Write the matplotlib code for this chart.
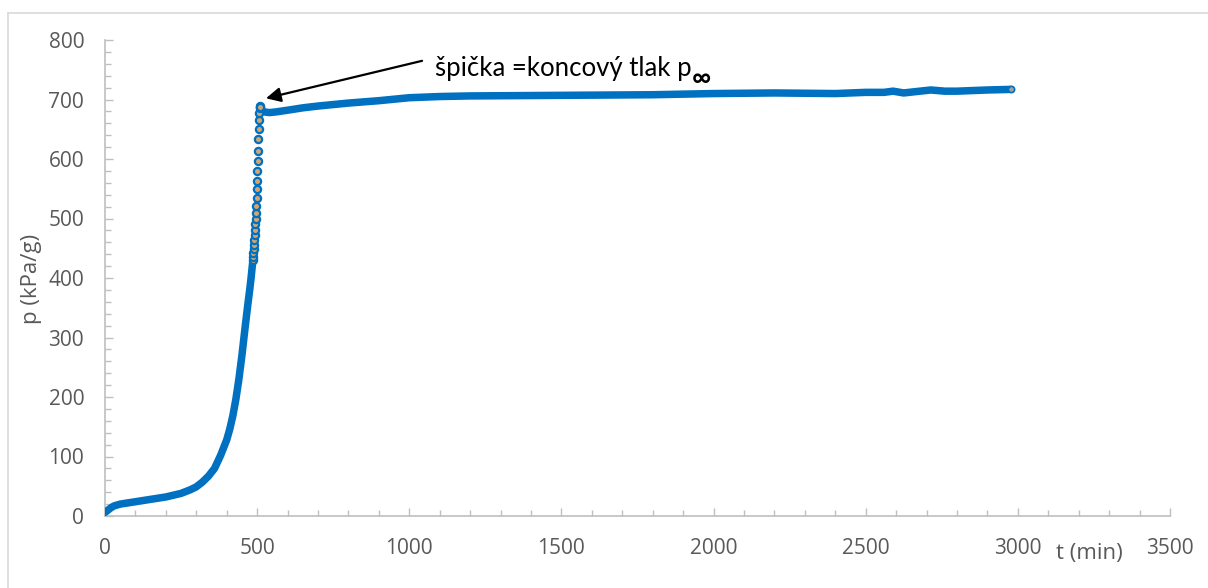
import matplotlib
matplotlib.use("Agg")
import matplotlib.pyplot as plt
from matplotlib.lines import Line2D

# ---- data ----
t_min = [0, 10, 20, 30, 50, 75, 100, 150, 200, 250, 280, 300, 320, 340, 360, 380,
         400, 410, 420, 430, 440, 450, 460, 470, 472, 474, 476, 478, 480, 482, 484,
         486, 487, 488, 489, 490, 491, 492, 493, 494, 495, 496, 497, 498, 499, 500,
         501, 502, 503, 504, 505, 506, 507, 508, 509, 510, 512, 516, 525, 540, 560,
         600, 650, 700, 800, 900, 1000, 1100, 1200, 1500, 1800, 2000, 2200, 2400,
         2500, 2560, 2590, 2625, 2660, 2714, 2760, 2800, 2850, 2900, 2977]
p_kpa = [6, 10, 14, 17, 20, 22, 24, 28, 32, 38, 44, 49, 57, 67, 80, 102,
         128, 146, 168, 196, 230, 270, 315, 358, 366, 374, 382, 391, 400, 410, 420,
         430, 436, 442, 449, 456, 464, 472, 481, 490, 500, 510, 521, 535, 549, 563,
         580, 597, 614, 634, 650, 666, 678, 686, 689, 688, 684, 681, 679, 678, 679,
         682, 686, 689, 694, 698, 703, 705, 706, 707, 708, 710, 711, 710,
         712, 712, 714, 711, 713, 716, 714, 714, 715, 716, 717]

x_ticks = [0, 500, 1000, 1500, 2000, 2500, 3000, 3500]
y_ticks = [0, 100, 200, 300, 400, 500, 600, 700, 800]
x_label = "t (min)"
y_label = "p (kPa/g)"
note = "špička =koncový tlak p"

BLUE = "#0070C0"
FILL = "#D6A46E"
GRAY_TXT = "#595959"
AXIS = "#BFBFBF"

fig = plt.figure(figsize=(12.08, 5.88), dpi=100)
ax = fig.add_axes([105/1208, 72/588, (1170-105)/1208, (516-40)/588])

# continuous band for densely sampled parts
seg1 = [(t, p) for t, p in zip(t_min, p_kpa) if t <= 491]
seg2 = [(t, p) for t, p in zip(t_min, p_kpa) if t >= 508]
for seg in (seg1, seg2):
    ax.plot([s[0] for s in seg], [s[1] for s in seg], color=BLUE, lw=5.4,
            solid_capstyle="round", solid_joinstyle="round", zorder=3)
# separate markers in the steep part
steep = [(t, p) for t, p in zip(t_min, p_kpa) if 486 <= t <= 510]
ax.plot([s[0] for s in steep], [s[1] for s in steep], ls="none", marker="o",
        ms=5.2, mfc=FILL, mec=BLUE, mew=1.6, zorder=4)
# last point
ax.plot([t_min[-1]], [p_kpa[-1]], ls="none", marker="o", ms=4.5, mfc="#A0A0A0",
        mec=BLUE, mew=1.2, zorder=4)

ax.set_xlim(0, 3500)
ax.set_ylim(0, 800)
ax.set_xticks(x_ticks)
ax.set_yticks(y_ticks)
ax.set_xticks(range(0, 3501, 100), minor=True)
ax.set_yticks(range(0, 801, 20), minor=True)
for s in ("top", "right"):
    ax.spines[s].set_visible(False)
for s in ("left", "bottom"):
    ax.spines[s].set_color(AXIS)
    ax.spines[s].set_linewidth(1.2)
ax.tick_params(which="major", direction="in", length=5.5, width=1.0, color=AXIS,
               labelsize=15, labelcolor=GRAY_TXT)
ax.tick_params(which="minor", direction="in", length=4, width=1.0, color=AXIS)
ax.tick_params(axis="y", pad=15)
ax.tick_params(axis="x", pad=16)
for lab in ax.get_xticklabels() + ax.get_yticklabels():
    lab.set_fontfamily("Open Sans")

fig.text(31/1208, 1 - 279/588, y_label, rotation=90, ha="center", va="center",
         fontsize=16, color=GRAY_TXT, family="Open Sans")
fig.text(1089/1208, 1 - 553/588, x_label, ha="center", va="center",
         fontsize=16, color=GRAY_TXT, family="Open Sans")

txt = ax.text(1084, 739, note, ha="left", va="baseline", fontsize=18.5,
              color="black", family="Lato")
ax.annotate("∞", xy=(1, 0), xycoords=txt, xytext=(0.5, -3.5), textcoords="offset points",
            ha="left", va="baseline", fontsize=19, fontweight="bold",
            color="black", family=["Lato", "DejaVu Sans"])
ax.annotate("", xy=(529, 702), xytext=(1042, 765),
            arrowprops=dict(arrowstyle="-|>", mutation_scale=22, lw=1.6,
                            color="black", shrinkA=0, shrinkB=0))

# chart-area border (top and left visible)
fig.add_artist(Line2D([8/1208, 1], [1 - 13/588, 1 - 13/588], color="#D9D9D9", lw=1.2))
fig.add_artist(Line2D([8/1208, 8/1208], [0, 1 - 13/588], color="#D9D9D9", lw=1.2))

fig.savefig("out.png", dpi=100, facecolor="white")
